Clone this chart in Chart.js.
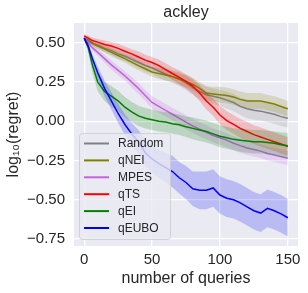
<!DOCTYPE html>
<html>
<head>
<meta charset="utf-8">
<script src="https://cdn.jsdelivr.net/npm/chart.js@4"></script>
<style>
  html, body { margin: 0; padding: 0; background: #fff; }
</style>
</head>
<body>
<canvas id="chart" width="308" height="293"></canvas>
<script>
const queries = [0, 3, 6, 10, 15, 20, 25, 30, 35, 40, 45, 50, 55, 60, 65, 70, 75, 80, 85, 90, 95, 100, 105, 110, 115, 120, 125, 130, 135, 140, 145, 150];

const randomMean = [0.53, 0.52, 0.50, 0.485, 0.465, 0.45, 0.43, 0.415, 0.395, 0.375, 0.355, 0.34, 0.32, 0.30, 0.285, 0.27, 0.245, 0.215, 0.19, 0.17, 0.16, 0.15, 0.135, 0.12, 0.095, 0.08, 0.07, 0.065, 0.055, 0.045, 0.03, 0.02];
const randomErr = [0.01, 0.015, 0.02, 0.02, 0.025, 0.025, 0.03, 0.03, 0.03, 0.035, 0.035, 0.035, 0.04, 0.04, 0.04, 0.045, 0.045, 0.045, 0.05, 0.05, 0.05, 0.05, 0.055, 0.055, 0.055, 0.06, 0.06, 0.06, 0.06, 0.06, 0.06, 0.06];

const qneiMean = [0.53, 0.51, 0.495, 0.48, 0.46, 0.44, 0.42, 0.40, 0.378, 0.355, 0.335, 0.315, 0.305, 0.295, 0.285, 0.27, 0.255, 0.235, 0.21, 0.18, 0.175, 0.17, 0.165, 0.155, 0.14, 0.13, 0.13, 0.13, 0.12, 0.11, 0.095, 0.08];
const qneiErr = [0.01, 0.015, 0.015, 0.02, 0.02, 0.025, 0.025, 0.025, 0.03, 0.03, 0.03, 0.03, 0.035, 0.035, 0.035, 0.035, 0.04, 0.04, 0.04, 0.045, 0.045, 0.05, 0.05, 0.05, 0.05, 0.05, 0.05, 0.05, 0.05, 0.05, 0.05, 0.05];

const mpesMean = [0.53, 0.50, 0.47, 0.44, 0.40, 0.36, 0.325, 0.29, 0.25, 0.21, 0.165, 0.12, 0.095, 0.07, 0.045, 0.02, -0.005, -0.03, -0.05, -0.07, -0.09, -0.105, -0.12, -0.14, -0.155, -0.17, -0.18, -0.19, -0.205, -0.215, -0.225, -0.235];
const mpesErr = [0.01, 0.015, 0.02, 0.02, 0.025, 0.03, 0.03, 0.03, 0.035, 0.035, 0.035, 0.04, 0.04, 0.04, 0.04, 0.045, 0.045, 0.045, 0.045, 0.045, 0.045, 0.045, 0.045, 0.045, 0.045, 0.045, 0.045, 0.045, 0.045, 0.045, 0.045, 0.045];

const qtsMean = [0.545, 0.53, 0.515, 0.505, 0.49, 0.48, 0.465, 0.447, 0.43, 0.41, 0.39, 0.375, 0.355, 0.33, 0.305, 0.28, 0.255, 0.225, 0.18, 0.13, 0.09, 0.04, 0.005, -0.02, -0.045, -0.065, -0.085, -0.10, -0.115, -0.13, -0.145, -0.16];
const qtsErr = [0.01, 0.015, 0.02, 0.02, 0.025, 0.025, 0.03, 0.03, 0.03, 0.035, 0.035, 0.035, 0.04, 0.04, 0.04, 0.045, 0.045, 0.05, 0.05, 0.055, 0.055, 0.06, 0.06, 0.06, 0.06, 0.06, 0.06, 0.06, 0.06, 0.06, 0.06, 0.06];

const qeiMean = [0.53, 0.47, 0.36, 0.25, 0.19, 0.16, 0.13, 0.09, 0.06, 0.035, 0.02, 0.01, 0.0, -0.005, -0.015, -0.022, -0.035, -0.045, -0.055, -0.065, -0.08, -0.095, -0.105, -0.115, -0.12, -0.125, -0.13, -0.13, -0.135, -0.14, -0.15, -0.155];
const qeiErr = [0.01, 0.03, 0.05, 0.06, 0.06, 0.065, 0.065, 0.065, 0.065, 0.065, 0.065, 0.065, 0.065, 0.065, 0.065, 0.065, 0.065, 0.07, 0.07, 0.07, 0.07, 0.07, 0.07, 0.07, 0.075, 0.075, 0.075, 0.075, 0.075, 0.075, 0.08, 0.08];

const qeuboMean = [0.53, 0.48, 0.40, 0.31, 0.21, 0.13, 0.05, -0.02, -0.08, -0.13, -0.2, -0.24, -0.27, -0.295, -0.32, -0.36, -0.39, -0.43, -0.44, -0.44, -0.425, -0.47, -0.49, -0.5, -0.52, -0.545, -0.57, -0.585, -0.555, -0.57, -0.59, -0.615];
const qeuboErr = [0.01, 0.02, 0.03, 0.04, 0.05, 0.055, 0.06, 0.065, 0.07, 0.075, 0.08, 0.085, 0.09, 0.095, 0.1, 0.1, 0.105, 0.11, 0.12, 0.12, 0.12, 0.12, 0.12, 0.12, 0.12, 0.12, 0.12, 0.12, 0.12, 0.12, 0.12, 0.12];

const xTicks = [0, 50, 100, 150];
const yTicks = [0.5, 0.25, 0, -0.25, -0.5, -0.75];

const series = [
  { label: 'Random', rgb: '128,128,128', mean: randomMean, err: randomErr },
  { label: 'qNEI', rgb: '128,128,0', mean: qneiMean, err: qneiErr },
  { label: 'MPES', rgb: '196,100,220', mean: mpesMean, err: mpesErr },
  { label: 'qTS', rgb: '255,0,0', mean: qtsMean, err: qtsErr },
  { label: 'qEI', rgb: '0,128,0', mean: qeiMean, err: qeiErr },
  { label: 'qEUBO', rgb: '0,0,255', mean: qeuboMean, err: qeuboErr }
];

const FONT = 'Liberation Sans, Arial, sans-serif';

function points(vals) {
  return queries.map((q, i) => ({ x: q, y: vals[i] }));
}

const datasets = [];
series.forEach((s, k) => {
  const base = datasets.length;
  const order = 100 - k * 3;
  datasets.push({
    data: points(s.mean.map((m, i) => m + s.err[i])),
    borderWidth: 0, pointRadius: 0, fill: base + 1,
    backgroundColor: `rgba(${s.rgb},0.2)`, order: order, isBand: true
  });
  datasets.push({
    data: points(s.mean.map((m, i) => m - s.err[i])),
    borderWidth: 0, pointRadius: 0, fill: false, order: order - 1, isBand: true
  });
  datasets.push({
    label: s.label,
    data: points(s.mean),
    borderColor: `rgb(${s.rgb})`, borderWidth: 1.5, pointRadius: 0,
    fill: false, order: order - 2
  });
});

const backdrop = {
  id: 'backdrop',
  beforeDraw(chart) {
    const { ctx, chartArea: a } = chart;
    ctx.save();
    ctx.fillStyle = '#fff';
    ctx.fillRect(0, 0, chart.width, chart.height);
    ctx.fillStyle = '#EAEAF2';
    ctx.fillRect(a.left, a.top, a.right - a.left, a.bottom - a.top);
    ctx.restore();
  }
};

const overlay = {
  id: 'overlay',
  afterDraw(chart) {
    const { ctx, chartArea: a } = chart;
    ctx.save();
    // title
    ctx.fillStyle = '#262626';
    ctx.font = '16px ' + FONT;
    ctx.textAlign = 'center';
    ctx.textBaseline = 'middle';
    ctx.fillText('ackley', (a.left + a.right) / 2, 13);

    // legend
    const bx = 79, by = 133, bw = 91, bh = 106, r = 3;
    ctx.beginPath();
    ctx.roundRect(bx + 0.5, by + 0.5, bw, bh, r);
    ctx.fillStyle = 'rgba(234,234,242,0.8)';
    ctx.fill();
    ctx.strokeStyle = 'rgba(204,204,204,0.8)';
    ctx.lineWidth = 1;
    ctx.stroke();
    ctx.font = '12px ' + FONT;
    ctx.textAlign = 'left';
    series.forEach((s, i) => {
      const y = 143.5 + i * 16.9;
      ctx.beginPath();
      ctx.moveTo(84, y);
      ctx.lineTo(109, y);
      ctx.strokeStyle = `rgb(${s.rgb})`;
      ctx.lineWidth = 2;
      ctx.stroke();
      ctx.fillStyle = '#262626';
      ctx.fillText(s.label, 118, y + 0.5);
    });
    ctx.restore();
  }
};

new Chart(document.getElementById('chart'), {
  type: 'line',
  data: { datasets },
  plugins: [backdrop, overlay],
  options: {
    responsive: false,
    animation: false,
    devicePixelRatio: 1,
    layout: { padding: { top: 23, right: 10, left: 0, bottom: 0 } },
    plugins: { legend: { display: false }, tooltip: { enabled: false } },
    elements: { line: { tension: 0 } },
    scales: {
      x: {
        type: 'linear', min: -7.5, max: 157.5,
        afterBuildTicks: (s) => { s.ticks = xTicks.map((v) => ({ value: v })); },
        afterFit: (s) => { s.height = 47; },
        grid: { color: '#fff', lineWidth: 1.3, drawTicks: false },
        border: { display: false },
        ticks: {
          padding: 5, color: '#262626', maxRotation: 0, autoSkip: false,
          font: { family: FONT, size: 15 },
          callback: (v) => String(v)
        },
        title: {
          display: true, text: 'number of queries', color: '#262626',
          font: { family: FONT, size: 16 }, padding: { top: 0, bottom: 5 }
        }
      },
      y: {
        type: 'linear', min: -0.795, max: 0.627,
        afterBuildTicks: (s) => { s.ticks = yTicks.map((v) => ({ value: v })); },
        afterFit: (s) => { s.width = 74; },
        grid: { color: '#fff', lineWidth: 1.3, drawTicks: false },
        border: { display: false },
        ticks: {
          padding: 9, color: '#262626', autoSkip: false,
          font: { family: FONT, size: 15 },
          callback: (v) => (v < 0 ? '\u2212' : '') + Math.abs(v).toFixed(2)
        },
        title: {
          display: true, text: 'log\u2081\u2080(regret)', color: '#262626',
          font: { family: FONT, size: 16 }, padding: { top: 4, bottom: 0 }
        }
      }
    }
  }
});
</script>
</body>
</html>
